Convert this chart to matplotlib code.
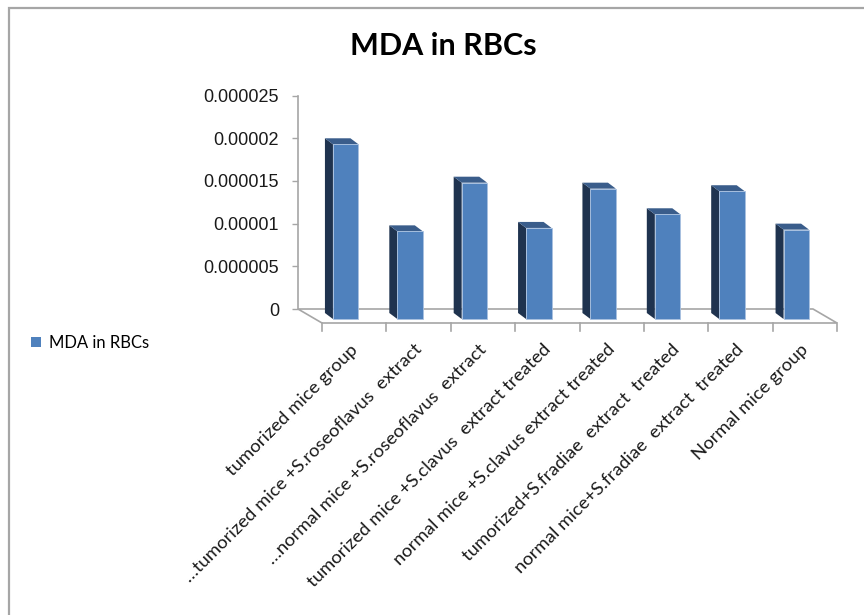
import matplotlib
matplotlib.use("Agg")
import matplotlib.pyplot as plt
from matplotlib.patches import Polygon, Rectangle, Patch

# Data
series_name = "MDA in RBCs"
groups = [
    "tumorized mice group",
    "\u2026tumorized mice +S.roseoflavus  extract",
    "\u2026normal mice +S.roseoflavus  extract",
    "tumorized mice +S.clavus  extract treated",
    "normal mice +S.clavus extract treated",
    "tumorized+S.fradiae  extract  treated",
    "normal mice+S.fradiae  extract  treated",
    "Normal mice group",
]
mda = [2.0e-5, 0.98e-5, 1.55e-5, 1.02e-5, 1.48e-5, 1.18e-5, 1.45e-5, 1.0e-5]
yticks = [0, 0.000005, 0.00001, 0.000015, 0.00002, 0.000025]
ytick_labels = ["0", "0.000005", "0.00001", "0.000015", "0.00002", "0.000025"]

W, H = 864, 615
fig = plt.figure(figsize=(W / 100, H / 100), dpi=100)

# plot area = back wall of the 3-D box (pixel layout)
x0, x1, y0, y1 = 298, 813, 309, 95.6
ax = fig.add_axes([x0 / W, 1 - y0 / H, (x1 - x0) / W, (y0 - y1) / H])
n = len(groups)
ax.set_xlim(-0.5, n - 0.5)
ax.set_ylim(0, 0.000025)

# pixel -> data helpers for the oblique 3-D look
px = n / (x1 - x0)
py = 0.000025 / (y0 - y1)

# floor of the box
fdx, fdy = 24 * px, 14 * py
floor = Polygon([(-0.5, 0), (n - 0.5, 0), (n - 0.5 + fdx, -fdy), (-0.5 + fdx, -fdy)],
                closed=True, facecolor="white", edgecolor="#a6a6a6", lw=1.2,
                clip_on=False, zorder=1)
ax.add_patch(floor)
for k in range(n + 1):
    ax.plot([k - 0.5 + fdx] * 2, [-fdy, -fdy - 8 * py], color="#a6a6a6", lw=1.2,
            clip_on=False, zorder=1)

# 3-D columns: dark left side, top cap, front face
w = 25.5 * px
bx, bb = 7.5 * px, 4 * py
sx, sy = 8 * px, 6 * py
for i, v in enumerate(mda):
    left = i - w / 2 + bx
    side = Polygon([(left, -bb), (left, v), (left + sx, v - sy), (left + sx, -bb - sy)],
                   closed=True, facecolor="#1f334f", edgecolor="none", clip_on=False, zorder=3)
    top = Polygon([(left, v), (left + w, v), (left + w + sx, v - sy), (left + sx, v - sy)],
                  closed=True, facecolor="#3a5d8b", edgecolor="none", clip_on=False, zorder=3)
    front = Rectangle((left + sx, -bb - sy), w, v + bb,
                      facecolor="#4f81bd", edgecolor="#a9c1e0", lw=0.6, clip_on=False, zorder=4)
    ax.add_patch(side)
    ax.add_patch(top)
    ax.add_patch(front)

# axes styling
for s in ["top", "right", "bottom"]:
    ax.spines[s].set_visible(False)
ax.spines["left"].set_color("#a6a6a6")
ax.spines["left"].set_linewidth(1.2)
ax.set_xticks([])
ax.set_yticks(yticks)
ax.set_yticklabels(ytick_labels, fontfamily="Liberation Sans", fontsize=13, color="#1a1a1a")
ax.tick_params(axis="y", length=4.5, width=1, color="#a6a6a6", pad=9)
ax.patch.set_alpha(0)

# rotated category labels under the front edge
for i, g in enumerate(groups):
    ax.text(i + fdx + 1 * px, -fdy - 24 * py, g, rotation=45, rotation_mode="anchor",
            ha="right", va="center", fontfamily="Lato", fontsize=13.3, color="#1a1a1a")

fig.text(443.5 / W, 1 - 46 / H, "MDA in RBCs", ha="center", va="center",
         fontfamily="Lato", fontweight="bold", fontsize=22, color="black")

fig.legend(handles=[Patch(facecolor="#4f81bd", label=series_name)],
           loc="center left", bbox_to_anchor=(16 / W, 1 - 343 / H), frameon=False,
           handlelength=0.6, handleheight=0.6, handletextpad=0.5,
           prop={"family": "Lato", "size": 12})

# chart border
fig.patches.append(Rectangle((8.5 / W, -0.1), 2, 1.1 - 7.5 / H, transform=fig.transFigure,
                             fill=False, edgecolor="#a6a6a6", lw=1.6))

fig.savefig("out.png", dpi=100)
